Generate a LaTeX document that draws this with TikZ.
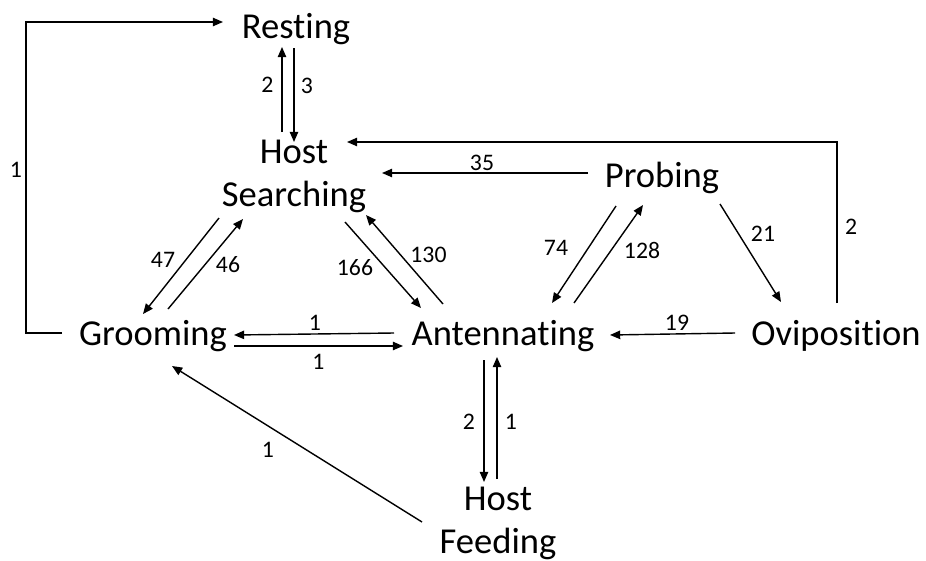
\documentclass[tikz,border=0pt]{standalone}
\usepackage{fontspec}
\setmainfont[Ligatures={NoCommon}]{Carlito}
\usepackage{tikz}
\usetikzlibrary{arrows.meta}

\tikzset{
  state/.style={inner sep=0pt, font=\fontsize{20.8}{24.4}\selectfont, align=center},
  lbl/.style={inner sep=0pt, font=\fontsize{13.5}{16}\selectfont},
  arr/.style={line width=0.8pt, -{Triangle[length=5.8pt,width=4.8pt]}}
}

\begin{document}
\begin{tikzpicture}[x=0.02cm, y=-0.02cm]
\useasboundingbox (0,0) rectangle (926,561);

\node[state, anchor=base] (rest)  at (296,38)  {Resting};
\node[state]              (hs)    at (294,176) {Host\\Searching};
\node[state, anchor=base] (prob)  at (662,187) {Probing};
\node[state, anchor=base] (groom) at (153,345) {Grooming};
\node[state, anchor=base] (ant)   at (503,345) {Antennating};
\node[state, anchor=base] (ovi)   at (836,345) {Oviposition};
\node[state]              (feed)  at (498,523.5) {Host\\Feeding};

% resting <-> host searching
\draw[arr] ([shift={(-12,-44)}]hs.center) -- ([shift={(-14,9)}]rest.base)
  node[lbl, midway, shift={(-14.5,-4.5)}] {2};
\draw[arr] ([shift={(-2,10)}]rest.base) -- ([shift={(0,-34)}]hs.center)
  node[lbl, midway, shift={(13,-9)}] {3};

% long returns
\draw[arr] ([shift={(-91,-12)}]groom.base) -- ++(-36,0) |- ([shift={(-73,-16)}]rest.base)
  node[lbl, pos=0.25, shift={(-10,-7.5)}] {1};
\draw[arr] ([shift={(1,-42)}]ovi.base) |- ([shift={(53,-34)}]hs.center)
  node[lbl, pos=0.25, shift={(14,4.5)}] {2};
\draw[arr] ([shift={(-74,-14)}]prob.base) -- ([shift={(88,-3)}]hs.center)
  node[lbl, midway, shift={(-3,-10)}] {35};

% host searching <-> grooming, antennating
\draw[arr] ([shift={(-75,42)}]hs.center) -- ([shift={(-10,-31)}]groom.base)
  node[lbl, midway, shift={(-18,-6)}] {47};
\draw[arr] ([shift={(15,-36)}]groom.base) -- ([shift={(-51,43)}]hs.center)
  node[lbl, midway, shift={(22.5,1)}] {46};
\draw[arr] ([shift={(51,46)}]hs.center) -- ([shift={(-82,-37)}]ant.base)
  node[lbl, midway, shift={(-28,3)}] {166};
\draw[arr] ([shift={(-60,-41)}]ant.base) -- ([shift={(72,39)}]hs.center)
  node[lbl, midway, shift={(24,-4.5)}] {130};

% probing
\draw[arr] ([shift={(-46,19)}]prob.base) -- ([shift={(49,-42)}]ant.base)
  node[lbl, midway, shift={(-28,-6.5)}] {74};
\draw[arr] ([shift={(71,-42)}]ant.base) -- ([shift={(-19,18)}]prob.base)
  node[lbl, midway, shift={(33.5,-4)}] {128};
\draw[arr] ([shift={(58,17)}]prob.base) -- ([shift={(-55,-43)}]ovi.base)
  node[lbl, midway, shift={(12.5,-19)}] {21};

% middle row
\draw[arr] ([shift={(-101,-12)}]ovi.base) -- ([shift={(107,-10)}]ant.base)
  node[lbl, midway, shift={(4.5,-11)}] {19};
\draw[arr] ([shift={(-109,-12)}]ant.base) -- ([shift={(81,-10)}]groom.base)
  node[lbl, midway, shift={(1,-11)}] {1};
\draw[arr] ([shift={(81,1)}]groom.base) -- ([shift={(-100,1)}]ant.base)
  node[lbl, midway, shift={(0,16)}] {1};

% host feeding
\draw[arr] ([shift={(-19,15)}]ant.base) -- ([shift={(-14,-41.5)}]feed.center)
  node[lbl, midway, shift={(-15,1)}] {2};
\draw[arr] ([shift={(-1,-44.5)}]feed.center) -- ([shift={(-6,12)}]ant.base)
  node[lbl, midway, shift={(14,4)}] {1};
\draw[arr] ([shift={(-76,-1.5)}]feed.center) -- ([shift={(19,21)}]groom.base)
  node[lbl, midway, shift={(-29,6)}] {1};
\end{tikzpicture}
\end{document}
